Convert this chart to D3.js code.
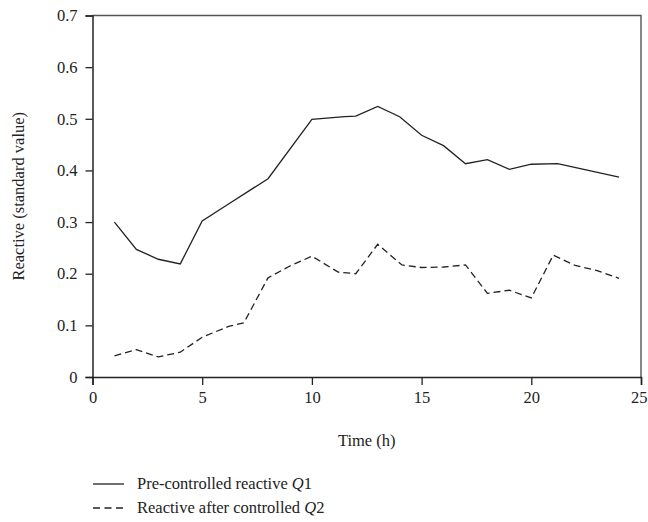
<!DOCTYPE html>
<html><head><meta charset="utf-8">
<script src="https://cdn.jsdelivr.net/npm/d3@7/dist/d3.min.js"></script>
<style>body{margin:0;background:#fff}svg{display:block}text{font-family:"Liberation Serif","DejaVu Serif",serif;fill:#222}</style>
</head><body><svg id="c" width="648" height="522"></svg>
<script>
const q1Time = [1,2,3,4,5,6.2,8,10,11.5,12,13,14,15,16,17,18,19,20,21.2,24];
const q1Vals = [0.300,0.247,0.228,0.219,0.302,0.335,0.384,0.499,0.504,0.505,0.524,0.504,0.468,0.448,0.413,0.421,0.402,0.412,0.413,0.387];
const q2Time = [1,2,3,4,5,6.2,6.9,8,9,10,11.2,12,13,14.1,15,16,17,18,19,20,21,22,23,24];
const q2Vals = [0.041,0.053,0.039,0.048,0.077,0.098,0.105,0.192,0.215,0.234,0.203,0.200,0.257,0.217,0.212,0.213,0.217,0.162,0.168,0.153,0.236,0.216,0.206,0.191];
const xTicks = [0,5,10,15,20,25];
const yTicks = [0,0.1,0.2,0.3,0.4,0.5,0.6,0.7];
const legendLabels = ["Pre-controlled reactive ", "Reactive after controlled "];
const legendVars = ["Q1","Q2"];

const svg = d3.select("#c");
const L=92.5, R=641, T=15.5, B=377;
const FS = "16.5px";
const x = d3.scaleLinear().domain([0,25]).range([L,R]);
const y = d3.scaleLinear().domain([0,0.7]).range([B,T]);

svg.append("path").attr("d",`M${L},${T}H${R}V${B}`).attr("fill","none").attr("stroke","#555").attr("stroke-width",1.4);

const xa = svg.append("g").attr("transform",`translate(0,${B})`)
  .call(d3.axisBottom(x).tickValues(xTicks).tickSize(8).tickPadding(6).tickFormat(d3.format("d")));
const ya = svg.append("g").attr("transform",`translate(${L},0)`)
  .call(d3.axisLeft(y).tickValues(yTicks).tickSize(7).tickPadding(8).tickFormat(d=>d===0?"0":d3.format(".1f")(d)));
[xa,ya].forEach(a=>{
  a.select(".domain").attr("stroke","#222").attr("stroke-width",1.5);
  a.selectAll(".tick line").attr("stroke","#222").attr("stroke-width",1.3);
  a.selectAll("text").style("font-size",FS).attr("fill","#222").style("font-family",'"Liberation Serif",serif');
});
// keep the last x label inside the picture, as in the reference
xa.selectAll(".tick").filter(d=>d===25).select("text").attr("text-anchor","end").attr("x",6);

const line = d3.line().x(d=>x(d[0])).y(d=>y(d[1]));
svg.append("path").datum(d3.zip(q1Time,q1Vals)).attr("d",line).attr("fill","none").attr("stroke","#222").attr("stroke-width",1.3);
svg.append("path").datum(d3.zip(q2Time,q2Vals)).attr("d",line).attr("fill","none").attr("stroke","#222").attr("stroke-width",1.3).attr("stroke-dasharray","7,4");

svg.append("text").attr("x",(L+R)/2).attr("y",446).attr("text-anchor","middle").style("font-size",FS).text("Time (h)");
svg.append("text").attr("transform",`translate(24,${(T+B)/2}) rotate(-90)`).attr("text-anchor","middle").style("font-size",FS).text("Reactive (standard value)");

const ly=[484,508];
legendLabels.forEach((lab,i)=>{
  svg.append("line").attr("x1",93).attr("x2",124).attr("y1",ly[i]).attr("y2",ly[i]).attr("stroke","#222").attr("stroke-width",1.3)
    .attr("stroke-dasharray", i===1?"7,4.5":null);
  const t = svg.append("text").attr("x",137).attr("y",ly[i]+5).style("font-size",FS);
  t.append("tspan").text(lab);
  t.append("tspan").style("font-style","italic").text(legendVars[i][0]);
  t.append("tspan").text(legendVars[i].slice(1));
});
</script></body></html>
